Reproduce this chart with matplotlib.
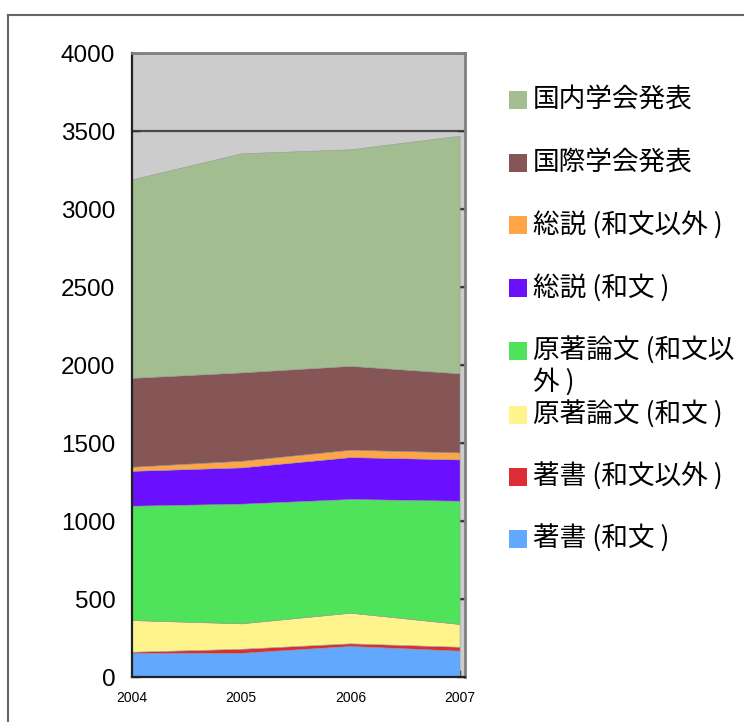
import matplotlib
matplotlib.use("Agg")
import matplotlib.pyplot as plt
from matplotlib.lines import Line2D
from matplotlib.patches import Rectangle

plt.rcParams['font.family'] = ['Liberation Sans', 'DejaVu Sans']

years = [2004, 2005, 2006, 2007]

# series, bottom of the stack first
chosho_wa = [154, 155, 199, 169]
chosho_other = [8, 26, 17, 25]
genchou_wa = [203, 163, 196, 146]
genchou_other = [733, 767, 729, 790]
sosetsu_wa = [224, 233, 269, 265]
sosetsu_other = [26, 42, 47, 45]
kokusai = [570, 567, 538, 507]
kokunai = [1272, 1404, 1388, 1523]

labels = ['著書 (和文 )', '著書 (和文以外 )', '原著論文 (和文 )', '原著論文 (和文以\n外 )',
          '総説 (和文 )', '総説 (和文以外 )', '国際学会発表', '国内学会発表']
colors = ['#62a8ff', '#dc2c35', '#fff38c', '#4ee35a',
          '#6a10ff', '#ffa545', '#865555', '#a2bd90']

y_ticks = [0, 500, 1000, 1500, 2000, 2500, 3000, 3500, 4000]

fig = plt.figure(figsize=(7.44, 7.22), dpi=100)
ax = fig.add_axes([132 / 744, 45 / 722, 333 / 744, 624 / 722])
ax.set_facecolor('#cccccc')

ax.stackplot(years, chosho_wa, chosho_other, genchou_wa, genchou_other,
             sosetsu_wa, sosetsu_other, kokusai, kokunai,
             colors=colors, edgecolor='#999999', linewidth=0.4, zorder=2)

ax.set_xlim(2004, 2007.05)
ax.set_ylim(0, 4000)
ax.set_yticks(y_ticks)
ax.set_xticks(years)
ax.set_xticklabels([str(y) for y in years])
ax.yaxis.grid(True, color='#4a4a4a', linewidth=1.6, zorder=1)
ax.set_axisbelow(True)

ax.tick_params(axis='y', direction='in', length=6, width=1, colors='#333333',
               labelcolor='black', labelsize=17.5, pad=12, right=True)
ax.tick_params(axis='x', direction='in', length=5, width=1, colors='#333333',
               labelcolor='black', labelsize=10, pad=10)

for side in ['left', 'bottom']:
    ax.spines[side].set_color('#222222')
    ax.spines[side].set_linewidth(1.6)
for side in ['top', 'right']:
    ax.spines[side].set_color('#808080')
    ax.spines[side].set_linewidth(2)

# legend, drawn as boxes plus text, top entry first
legend_y = [100, 163, 225, 288, 351, 415, 477, 539]
cjk = ['Noto Sans CJK JP', 'DejaVu Sans']
for lab, col, py in zip(labels[::-1], colors[::-1], legend_y):
    fig.add_artist(Rectangle((509 / 744, 1 - (py + 9) / 722), 18 / 744, 18 / 722,
                             transform=fig.transFigure, facecolor=col,
                             edgecolor='none'))
    fig.text(533 / 744, 1 - (py - 14) / 722, lab, family=cjk, fontsize=19.2,
             va='top', ha='left', linespacing=1.15)

# frame around the figure
fig.add_artist(Line2D([8 / 744, 1.0], [1 - 15 / 722, 1 - 15 / 722],
                      transform=fig.transFigure, color='#666666', linewidth=1.5))
fig.add_artist(Line2D([8 / 744, 8 / 744], [0.0, 1 - 15 / 722],
                      transform=fig.transFigure, color='#666666', linewidth=1.5))

fig.savefig('out.png', dpi=100)
